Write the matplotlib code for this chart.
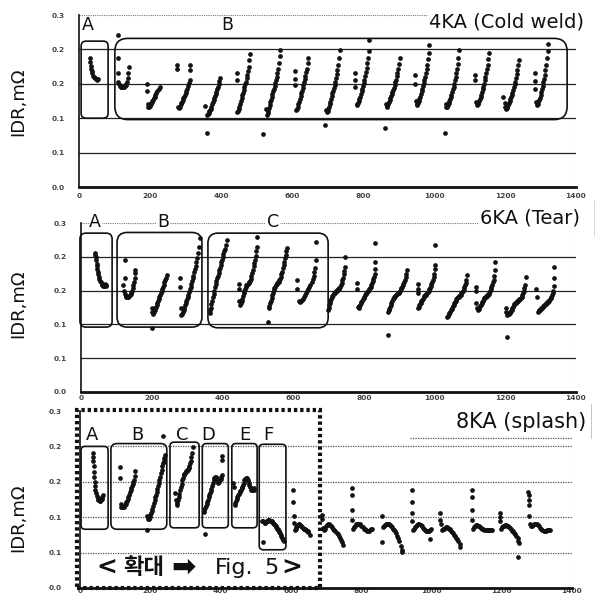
import matplotlib
matplotlib.use("Agg")
import matplotlib.pyplot as plt
from matplotlib.patches import FancyBboxPatch, Rectangle
from matplotlib.lines import Line2D

# ---------------- data ----------------
xticks = [0, 200, 400, 600, 800, 1000, 1200, 1400]
xtick_labels = ["0", "200", "400", "600", "800", "1000", "1200", "1400"]
yticks = [0.0, 0.05, 0.10, 0.15, 0.20, 0.25]
ytick_labels = ["0.0", "0.1", "0.1", "0.2", "0.2", "0.3"]

titles = ["4KA (Cold weld)", "6KA (Tear)", "8KA (splash)"]
ylabel = "IDR,mΩ"
zoom_note = ["<", "확대", "➡", "Fig.", "5", ">"]

# 4KA (Cold weld): one list per weld cycle
ka4_x = [
    [30, 31, 33, 35, 36, 38, 40, 42, 44, 46, 48, 50, 52, 54],
    [110, 110, 110, 111, 113, 115, 117, 119, 121, 123, 125, 127, 129, 131, 133, 135, 137, 138, 140],
    [191, 191, 193, 195, 197, 199, 201, 203, 205, 207, 209, 211, 213, 215, 218, 221, 224, 227],
    [276, 276, 280, 282, 284, 286, 288, 290, 292, 294, 296, 298, 300, 302, 304, 307, 310, 312, 313, 313],
    [355, 360, 361, 363, 365, 367, 369, 371, 373, 375, 377, 379, 381, 383, 385, 387, 389, 391, 393, 395, 397],
    [444, 444, 446, 448, 450, 452, 454, 456, 458, 460, 462, 464, 466, 468, 470, 472, 474, 476, 478, 480, 481],
    [518, 527, 529, 531, 533, 535, 537, 539, 541, 543, 545, 547, 549, 551, 553, 555, 557, 559, 561, 563, 565, 566],
    [608, 608, 608, 612, 614, 616, 618, 620, 622, 624, 626, 628, 630, 632, 634, 636, 638, 640, 642, 644, 645],
    [693, 695, 698, 700, 702, 704, 706, 708, 710, 712, 714, 716, 718, 720, 722, 724, 726, 728, 730, 732, 734],
    [777, 777, 777, 782, 784, 786, 788, 790, 792, 794, 796, 798, 800, 802, 804, 806, 808, 810, 812, 814, 816, 818],
    [862, 865, 867, 869, 871, 873, 875, 877, 879, 881, 883, 885, 887, 889, 891, 893, 895, 897, 899, 901, 903],
    [946, 946, 949, 951, 953, 955, 957, 959, 961, 963, 965, 967, 969, 971, 973, 975, 977, 979, 981, 983, 985, 987],
    [1031, 1033, 1035, 1037, 1039, 1041, 1043, 1045, 1047, 1049, 1051, 1053, 1055, 1057, 1059, 1061, 1063, 1065, 1067, 1069, 1071],
    [1116, 1116, 1119, 1121, 1123, 1125, 1127, 1129, 1131, 1133, 1135, 1137, 1139, 1141, 1143, 1145, 1147, 1149, 1151, 1153, 1155],
    [1194, 1199, 1201, 1203, 1205, 1207, 1209, 1211, 1213, 1215, 1217, 1219, 1221, 1223, 1225, 1227, 1229, 1231, 1233, 1235, 1237, 1239],
    [1285, 1285, 1285, 1288, 1290, 1292, 1294, 1296, 1298, 1300, 1302, 1304, 1306, 1308, 1310, 1312, 1314, 1316, 1318, 1320, 1321],
]
ka4_y = [
    [.187, .181, .176, .172, .168, .165, .162, .160, .159, .158, .157, .157, .156, .157],
    [.221, .188, .166, .152, .149, .147, .146, .145, .145, .145, .146, .146, .147, .148, .150, .153, .158, .166, .174],
    [.150, .140, .120, .117, .116, .118, .120, .121, .123, .125, .127, .129, .131, .133, .136, .139, .142, .145],
    [.177, .171, .116, .115, .117, .120, .122, .124, .127, .129, .131, .134, .137, .140, .143, .147, .151, .155, .170, .178],
    [.118, .078, .105, .106, .108, .110, .112, .114, .117, .120, .123, .126, .129, .132, .135, .138, .142, .146, .150, .154, .158],
    [.166, .155, .109, .111, .114, .117, .121, .125, .129, .133, .137, .141, .145, .149, .153, .158, .163, .169, .175, .184, .194],
    [.077, .113, .105, .108, .111, .115, .119, .123, .127, .131, .135, .139, .143, .147, .151, .155, .160, .166, .172, .180, .190, .199],
    [.168, .157, .148, .112, .114, .117, .120, .124, .128, .132, .136, .140, .144, .148, .152, .157, .162, .167, .172, .180, .187],
    [.090, .112, .109, .111, .114, .117, .120, .124, .128, .132, .136, .140, .144, .148, .153, .158, .164, .170, .178, .188, .199],
    [.166, .156, .146, .119, .120, .122, .125, .128, .131, .135, .139, .143, .147, .151, .156, .161, .167, .173, .180, .188, .198, .213],
    [.086, .120, .117, .118, .120, .123, .126, .129, .132, .135, .138, .141, .144, .148, .152, .156, .161, .166, .172, .179, .187],
    [.163, .150, .125, .119, .120, .122, .125, .128, .131, .135, .139, .143, .147, .151, .155, .160, .165, .171, .178, .186, .195, .206],
    [.079, .120, .116, .117, .119, .122, .125, .128, .131, .134, .138, .142, .146, .150, .155, .160, .166, .172, .179, .188, .199],
    [.163, .155, .123, .119, .120, .122, .125, .128, .131, .134, .138, .142, .146, .150, .155, .160, .165, .171, .178, .186, .195],
    [.131, .122, .117, .114, .115, .117, .119, .122, .125, .128, .131, .134, .137, .141, .145, .149, .153, .158, .164, .170, .177, .184],
    [.166, .154, .143, .123, .119, .120, .123, .126, .130, .134, .138, .142, .147, .152, .157, .163, .170, .178, .188, .198, .208],
]

# 6KA (Tear)
ka6_x = [
    [40, 41, 42, 43, 44, 45, 46, 47, 48, 50, 52, 54, 56, 58, 60, 62, 64, 66, 68, 70, 72],
    [124, 124, 120, 122, 124, 126, 128, 130, 132, 134, 136, 138, 140, 142, 144, 146, 148, 150, 152, 153, 153],
    [200, 200, 202, 204, 206, 208, 210, 212, 214, 216, 218, 220, 222, 224, 226, 228, 230, 232, 234, 236, 238, 240, 242],
    [280, 280, 282, 284, 286, 288, 290, 292, 294, 296, 298, 300, 302, 304, 306, 308, 310, 312, 314, 316, 318, 320, 322, 324, 326, 328, 330, 333, 336],
    [365, 366, 367, 369, 371, 373, 375, 377, 379, 381, 383, 385, 387, 389, 391, 393, 395, 397, 399, 401, 403, 405, 408, 411, 413],
    [446, 446, 448, 450, 452, 454, 456, 458, 460, 462, 464, 466, 468, 470, 472, 474, 476, 478, 480, 482, 484, 486, 488, 490, 492, 494, 496, 497, 498],
    [529, 531, 533, 535, 537, 539, 541, 543, 545, 547, 549, 551, 553, 555, 557, 559, 561, 563, 565, 567, 569, 571, 573, 575, 577, 579, 581, 583],
    [612, 612, 616, 619, 622, 625, 628, 631, 634, 637, 640, 643, 646, 649, 652, 655, 658, 660, 662, 664, 666],
    [699, 700, 701, 703, 705, 707, 709, 711, 713, 715, 717, 719, 721, 723, 725, 727, 729, 731, 733, 735, 737, 739, 741, 743, 745, 747, 747],
    [781, 781, 783, 785, 787, 789, 791, 793, 795, 797, 799, 801, 803, 805, 807, 809, 811, 813, 815, 817, 819, 821, 823, 825, 827, 829, 831, 831, 831, 831],
    [868, 868, 870, 872, 874, 876, 878, 880, 882, 884, 886, 888, 890, 892, 894, 896, 898, 900, 902, 904, 906, 908, 910, 912, 914, 916, 918, 920, 921],
    [953, 953, 953, 953, 955, 957, 959, 961, 963, 965, 967, 969, 971, 973, 975, 977, 979, 981, 983, 985, 987, 989, 991, 993, 995, 997, 999, 1000, 1001, 1001],
    [1036, 1038, 1040, 1042, 1044, 1046, 1048, 1050, 1052, 1054, 1056, 1058, 1060, 1062, 1064, 1066, 1068, 1070, 1072, 1074, 1076, 1078, 1080, 1082, 1084, 1086, 1088, 1090, 1091],
    [1116, 1116, 1118, 1121, 1123, 1125, 1127, 1129, 1131, 1133, 1135, 1137, 1139, 1141, 1143, 1145, 1147, 1149, 1151, 1153, 1155, 1157, 1159, 1161, 1163, 1165, 1167, 1169, 1170, 1170],
    [1201, 1203, 1204, 1206, 1208, 1210, 1212, 1214, 1216, 1218, 1220, 1222, 1224, 1226, 1228, 1230, 1232, 1234, 1236, 1238, 1240, 1242, 1244, 1246, 1248, 1250, 1252, 1254, 1256, 1258],
    [1288, 1290, 1292, 1294, 1296, 1298, 1300, 1302, 1304, 1306, 1308, 1310, 1312, 1314, 1316, 1318, 1320, 1322, 1324, 1326, 1328, 1330, 1332, 1334, 1336, 1338, 1338, 1338],
]
ka6_y = [
    [.206, .203, .199, .195, .190, .186, .182, .178, .174, .170, .167, .164, .162, .160, .158, .157, .157, .158, .160, .159, .157],
    [.195, .168, .158, .150, .145, .142, .141, .140, .140, .141, .142, .143, .145, .147, .150, .154, .158, .163, .168, .176, .181],
    [.095, .124, .119, .116, .118, .121, .124, .126, .129, .132, .135, .138, .141, .144, .147, .150, .153, .156, .159, .162, .165, .169, .173],
    [.168, .155, .125, .114, .116, .119, .122, .125, .128, .131, .134, .137, .140, .144, .148, .152, .156, .160, .164, .168, .172, .177, .182, .187, .192, .198, .205, .215, .228],
    [.117, .121, .125, .130, .135, .140, .145, .150, .155, .160, .164, .168, .172, .176, .180, .184, .188, .192, .196, .200, .204, .208, .212, .218, .225],
    [.160, .153, .135, .129, .131, .134, .138, .142, .146, .150, .153, .156, .158, .159, .160, .161, .162, .164, .167, .171, .176, .181, .186, .191, .196, .201, .208, .214, .229],
    [.103, .124, .127, .131, .135, .139, .143, .147, .151, .154, .156, .158, .160, .161, .162, .163, .165, .167, .170, .174, .178, .183, .188, .193, .198, .203, .208, .213],
    [.165, .152, .135, .133, .134, .136, .138, .141, .144, .147, .150, .153, .156, .159, .163, .167, .172, .178, .184, .195, .222],
    [.121, .124, .128, .131, .134, .137, .140, .142, .144, .146, .147, .148, .149, .150, .151, .152, .153, .154, .156, .158, .161, .165, .169, .174, .179, .185, .200],
    [.161, .153, .126, .125, .127, .129, .131, .133, .135, .137, .139, .141, .143, .145, .147, .148, .149, .150, .152, .154, .156, .158, .161, .164, .167, .170, .174, .182, .192, .220],
    [.084, .119, .121, .123, .126, .129, .132, .135, .137, .139, .141, .142, .143, .144, .145, .146, .147, .148, .150, .152, .154, .156, .158, .160, .163, .166, .170, .174, .180],
    [.160, .152, .147, .124, .126, .128, .130, .132, .134, .136, .138, .140, .142, .143, .144, .145, .146, .148, .150, .152, .154, .157, .160, .163, .166, .170, .175, .182, .188, .217],
    [.111, .113, .115, .117, .119, .121, .123, .125, .127, .129, .131, .133, .135, .137, .139, .140, .141, .142, .143, .144, .146, .148, .150, .152, .155, .158, .161, .166, .173],
    [.156, .150, .131, .125, .121, .123, .125, .127, .129, .131, .133, .135, .137, .139, .140, .141, .142, .143, .144, .145, .147, .149, .152, .155, .158, .162, .166, .172, .180, .193],
    [.124, .118, .081, .114, .115, .116, .117, .118, .120, .122, .124, .126, .128, .130, .131, .132, .133, .134, .135, .136, .137, .138, .139, .141, .143, .146, .150, .154, .158, .170],
    [.152, .140, .119, .120, .121, .122, .123, .124, .125, .126, .127, .128, .129, .130, .131, .132, .133, .134, .135, .137, .139, .141, .143, .146, .150, .157, .168, .185],
]

# 8KA (splash)
ka8_x = [
    [37, 37, 38, 39, 40, 41, 42, 43, 44, 46, 48, 50, 52, 54, 56, 58, 60, 62, 64, 66],
    [114, 114, 116, 118, 120, 122, 124, 126, 128, 130, 132, 134, 136, 138, 140, 142, 144, 146, 148, 150, 152, 154, 156, 157],
    [190, 192, 194, 196, 198, 200, 202, 204, 206, 208, 210, 212, 214, 216, 218, 220, 222, 224, 226, 228, 230, 232, 234, 236, 238, 240, 242, 237],
    [270, 272, 275, 277, 279, 281, 283, 285, 287, 289, 291, 293, 295, 297, 299, 301, 303, 305, 307, 309, 311, 313, 315, 317, 319, 321],
    [352, 354, 356, 358, 360, 362, 364, 366, 368, 370, 372, 374, 376, 378, 380, 382, 384, 386, 388, 390, 392, 394, 396, 398, 400, 402, 404, 403, 405, 355],
    [436, 438, 440, 442, 444, 446, 448, 450, 452, 454, 456, 458, 460, 462, 464, 466, 468, 470, 472, 474, 476, 478, 480, 482, 484, 486, 488, 490, 492, 494, 496],
    [519, 521, 523, 525, 527, 529, 531, 533, 535, 537, 539, 541, 543, 545, 547, 549, 551, 553, 555, 557, 559, 561, 563, 565, 567, 569, 571, 573, 575, 577, 579, 581, 521],
    [606, 606, 608, 608, 612, 614, 616, 618, 620, 622, 624, 626, 628, 630, 632, 634, 636, 638, 640, 642, 644, 646, 648, 650, 655],
    [690, 690, 692, 695, 697, 700, 703, 706, 709, 712, 715, 718, 721, 724, 727, 730, 733, 736, 739, 742, 745, 748],
    [773, 773, 773, 774, 777, 780, 783, 786, 789, 792, 795, 798, 801, 804, 807, 810, 813, 816, 819, 822, 825, 828, 831],
    [859, 859, 861, 864, 867, 870, 873, 876, 879, 882, 885, 888, 891, 894, 897, 900, 903, 906, 909, 912, 915, 917],
    [944, 944, 945, 945, 948, 951, 954, 957, 960, 963, 966, 969, 972, 975, 978, 981, 984, 987, 990, 993, 996, 999, 996],
    [1024, 1024, 1026, 1029, 1032, 1035, 1038, 1041, 1044, 1047, 1050, 1053, 1056, 1059, 1062, 1065, 1068, 1071, 1074, 1077, 1080, 1082],
    [1115, 1115, 1115, 1116, 1118, 1121, 1124, 1127, 1130, 1133, 1136, 1139, 1142, 1145, 1148, 1151, 1154, 1157, 1160, 1163, 1166, 1169, 1172],
    [1195, 1195, 1196, 1197, 1200, 1203, 1206, 1209, 1212, 1215, 1218, 1221, 1224, 1227, 1230, 1233, 1236, 1239, 1242, 1245, 1247, 1248, 1247],
    [1275, 1277, 1278, 1279, 1278, 1280, 1283, 1286, 1289, 1292, 1295, 1298, 1301, 1304, 1307, 1310, 1313, 1316, 1319, 1322, 1325, 1328, 1331, 1334, 1337],
]
ka8_y = [
    [.191, .185, .180, .172, .164, .157, .150, .144, .139, .134, .130, .127, .125, .124, .123, .123, .124, .126, .128, .131],
    [.171, .155, .118, .115, .114, .114, .115, .116, .117, .119, .121, .123, .126, .129, .132, .135, .138, .141, .144, .147, .150, .153, .158, .165],
    [.082, .101, .097, .098, .100, .103, .106, .109, .112, .116, .120, .124, .128, .132, .136, .140, .144, .148, .152, .157, .162, .167, .172, .176, .180, .184, .188, .215],
    [.134, .125, .117, .120, .124, .128, .133, .138, .143, .147, .152, .156, .159, .161, .163, .164, .165, .166, .167, .169, .172, .176, .180, .185, .191, .199],
    [.108, .110, .113, .116, .119, .122, .125, .128, .131, .134, .137, .140, .144, .148, .152, .155, .157, .157, .155, .152, .150, .149, .150, .152, .154, .157, .160, .181, .186, .076],
    [.148, .143, .117, .120, .123, .126, .129, .131, .133, .135, .137, .139, .141, .143, .146, .149, .152, .154, .155, .155, .154, .152, .149, .146, .143, .141, .139, .138, .138, .139, .141],
    [.094, .095, .093, .092, .092, .093, .094, .095, .096, .096, .096, .095, .095, .094, .093, .092, .091, .090, .089, .087, .086, .084, .083, .081, .079, .077, .075, .073, .071, .069, .068, .066, .065],
    [.138, .122, .101, .092, .082, .084, .086, .088, .089, .090, .090, .089, .088, .087, .086, .085, .084, .083, .083, .082, .082, .081, .080, .079, .075],
    [.103, .097, .085, .082, .084, .087, .089, .090, .090, .089, .088, .086, .084, .082, .080, .078, .076, .074, .071, .068, .065, .061],
    [.141, .131, .110, .096, .084, .086, .088, .090, .091, .091, .091, .090, .088, .086, .084, .083, .082, .081, .081, .081, .082, .083, .083],
    [.101, .065, .086, .087, .089, .090, .091, .091, .090, .089, .088, .086, .084, .082, .080, .077, .074, .070, .066, .060, .053, .051],
    [.138, .122, .106, .094, .082, .084, .086, .088, .089, .090, .090, .089, .087, .085, .083, .082, .081, .080, .080, .081, .082, .083, .069],
    [.106, .096, .091, .082, .083, .084, .085, .086, .086, .085, .084, .083, .081, .079, .077, .075, .073, .071, .069, .066, .062, .058],
    [.138, .128, .110, .096, .084, .086, .088, .089, .089, .088, .087, .086, .085, .084, .083, .082, .082, .082, .082, .082, .082, .082, .082],
    [.106, .100, .094, .084, .086, .087, .088, .089, .089, .088, .087, .086, .085, .083, .081, .080, .078, .076, .073, .070, .067, .063, .044],
    [.136, .131, .124, .117, .101, .091, .087, .088, .089, .090, .091, .091, .090, .089, .087, .085, .083, .082, .081, .081, .081, .082, .082, .082, .082],
]

# ---------------- figure ----------------
W, H = 602, 595
fig = plt.figure(figsize=(W / 100, H / 100), dpi=100)
fig.patch.set_facecolor("white")


def fx(px):
    return px / W


def fy(py):
    return 1 - py / H


def make_ax(left, right, top, bottom):
    return fig.add_axes([fx(left), fy(bottom), (right - left) / W, (bottom - top) / H])


ax1 = make_ax(79, 576, 15, 187)
ax2 = make_ax(81, 576, 223, 392)
ax3 = make_ax(80, 572, 411, 588)
axes = [ax1, ax2, ax3]

INK = "#111111"
TICKC = "#444444"

for i, ax in enumerate(axes):
    ax.set_xlim(0, 1400)
    ax.set_ylim(0, 0.25)
    ax.set_xticks(xticks)
    ax.set_xticklabels(xtick_labels)
    ax.set_yticks(yticks)
    ax.set_yticklabels(ytick_labels)
    ax.tick_params(length=0, labelsize=5.3, colors=TICKC)
    for lab in ax.get_xticklabels() + ax.get_yticklabels():
        lab.set_fontweight("bold")
    ax.spines["top"].set_visible(False)
    ax.spines["right"].set_visible(False)
    ax.spines["bottom"].set_linewidth(2.0)
    ax.spines["bottom"].set_color(INK)
    ax.spines["left"].set_linewidth(1.2)
    ax.spines["left"].set_color(INK)
    ax.axvline(1400, color="#9a9a9a", lw=0.8, ls=(0, (1, 1)))
    if i < 2:
        for g in yticks[1:5]:
            ax.axhline(g, color="#222222", lw=0.9)
        ax.axhline(0.25, color="#777777", lw=0.8, ls=(0, (1, 1)))
    else:
        for g in yticks[1:5]:
            ax.axhline(g, color="#555555", lw=0.9, ls=(0, (1, 1)))

ax1.tick_params(axis="y", pad=10)
ax1.tick_params(axis="x", pad=4)
ax2.tick_params(axis="y", pad=10)
ax2.tick_params(axis="x", pad=2)
ax3.tick_params(axis="y", pad=13)
ax3.tick_params(axis="x", pad=0)

# scatter points
for ax, xs, ys in [(ax1, ka4_x, ka4_y), (ax2, ka6_x, ka6_y), (ax3, ka8_x, ka8_y)]:
    for cx, cy in zip(xs, ys):
        ax.plot(cx, cy, "o", ms=2.8, color=INK, mec=INK, mew=0.5, clip_on=False, zorder=3)


# rounded annotation boxes
def rbox(ax, x0, x1, y0, y1, r_px, lw=1.2):
    pos = ax.get_position()
    w_px = pos.width * W
    h_px = pos.height * H
    xu = 1400 / w_px
    yu = 0.25 / h_px
    aspect = yu / xu
    p = FancyBboxPatch((x0, y0), x1 - x0, y1 - y0,
                       boxstyle=f"round,pad=0,rounding_size={r_px * xu}",
                       mutation_scale=1, mutation_aspect=aspect,
                       fill=False, ec=INK, lw=lw, clip_on=False, zorder=4)
    ax.add_patch(p)


rbox(ax1, 6, 82, 0.100, 0.212, 5)
rbox(ax1, 101, 1375, 0.098, 0.216, 13)
rbox(ax2, -3, 88, 0.096, 0.235, 6)
rbox(ax2, 102, 342, 0.096, 0.236, 10)
rbox(ax2, 359, 699, 0.095, 0.235, 10)
rbox(ax3, 3, 80, 0.083, 0.200, 4)
rbox(ax3, 88, 247, 0.083, 0.204, 6)
rbox(ax3, 256, 339, 0.085, 0.206, 4)
rbox(ax3, 348, 422, 0.085, 0.204, 4)
rbox(ax3, 432, 504, 0.085, 0.204, 4)
rbox(ax3, 510, 586, 0.054, 0.203, 4)

# letters
lab_kw = dict(ha="center", va="center", color=INK, clip_on=False, zorder=5)
ax1.text(25, 0.236, "A", fontsize=12.5, **lab_kw)
ax1.text(417, 0.236, "B", fontsize=12.5, **lab_kw)
for lt, lx in zip(["A", "B", "C"], [40, 232, 543]):
    ax2.text(lx, 0.252, lt, fontsize=12.5, bbox=dict(fc="white", ec="none", pad=0.5), **lab_kw)
for lt, lx in zip(["A", "B", "C", "D", "E", "F"], [34, 162, 290, 364, 469, 535]):
    ax3.text(lx, 0.216, lt, fontsize=13, **lab_kw)

# titles
fig.text(fx(584), fy(22), titles[0], ha="right", va="center", fontsize=14, color=INK,
         bbox=dict(fc="white", ec="none", pad=1))
fig.text(fx(580), fy(218), titles[1], ha="right", va="center", fontsize=14, color=INK,
         bbox=dict(fc="white", ec="none", pad=1))
# title box of panel 3
fig.add_artist(Rectangle((fx(408), fy(438)), (591 - 408) / W, (438 - 404) / H,
                         transform=fig.transFigure, fc="white", ec="none", zorder=5))
fig.add_artist(Line2D([fx(410), fx(572)], [fy(438), fy(438)], transform=fig.transFigure,
                      color="#555555", lw=0.9, ls=(0, (1, 1)), zorder=6))
fig.add_artist(Line2D([fx(591), fx(591)], [fy(404), fy(438)], transform=fig.transFigure,
                      color="#bbbbbb", lw=0.6, zorder=6))
fig.text(fx(586), fy(422), titles[2], ha="right", va="center", fontsize=15, color=INK, zorder=7)

# faint dotted artefact at right of panel 2 title
fig.add_artist(Line2D([fx(594), fx(594)], [fy(200), fy(236)], transform=fig.transFigure,
                      color="#aaaaaa", lw=0.6, ls=(0, (1, 1))))

# y labels
for cy in [102, 304, 518]:
    fig.text(fx(18), fy(cy), ylabel, rotation=90, ha="center", va="center", fontsize=13, color=INK)

# thick dotted frame in panel 3
fig.add_artist(Rectangle((fx(77), fy(588)), (320 - 77) / W, (588 - 410) / H,
                         transform=fig.transFigure, fill=False, ec=INK, lw=3.0,
                         ls=(0, (0.8, 0.7)), zorder=8))
latin_fam = ["DejaVu Sans"]
kr_fam = ["Noto Sans CJK KR", "DejaVu Sans"]
note_style = [
    (107, 18, "bold", latin_fam),
    (144, 16, "bold", kr_fam),
    (184, 21, "bold", latin_fam),
    (234, 16, "normal", latin_fam),
    (271, 16, "normal", latin_fam),
    (292, 18, "bold", latin_fam),
]
for part, (cx, fs, wt, fam) in zip(zoom_note, note_style):
    fig.text(fx(cx), fy(568), part, ha="center", va="center", fontsize=fs,
             family=fam, weight=wt, color=INK, zorder=9)

fig.savefig("out.png", dpi=100, facecolor="white")
